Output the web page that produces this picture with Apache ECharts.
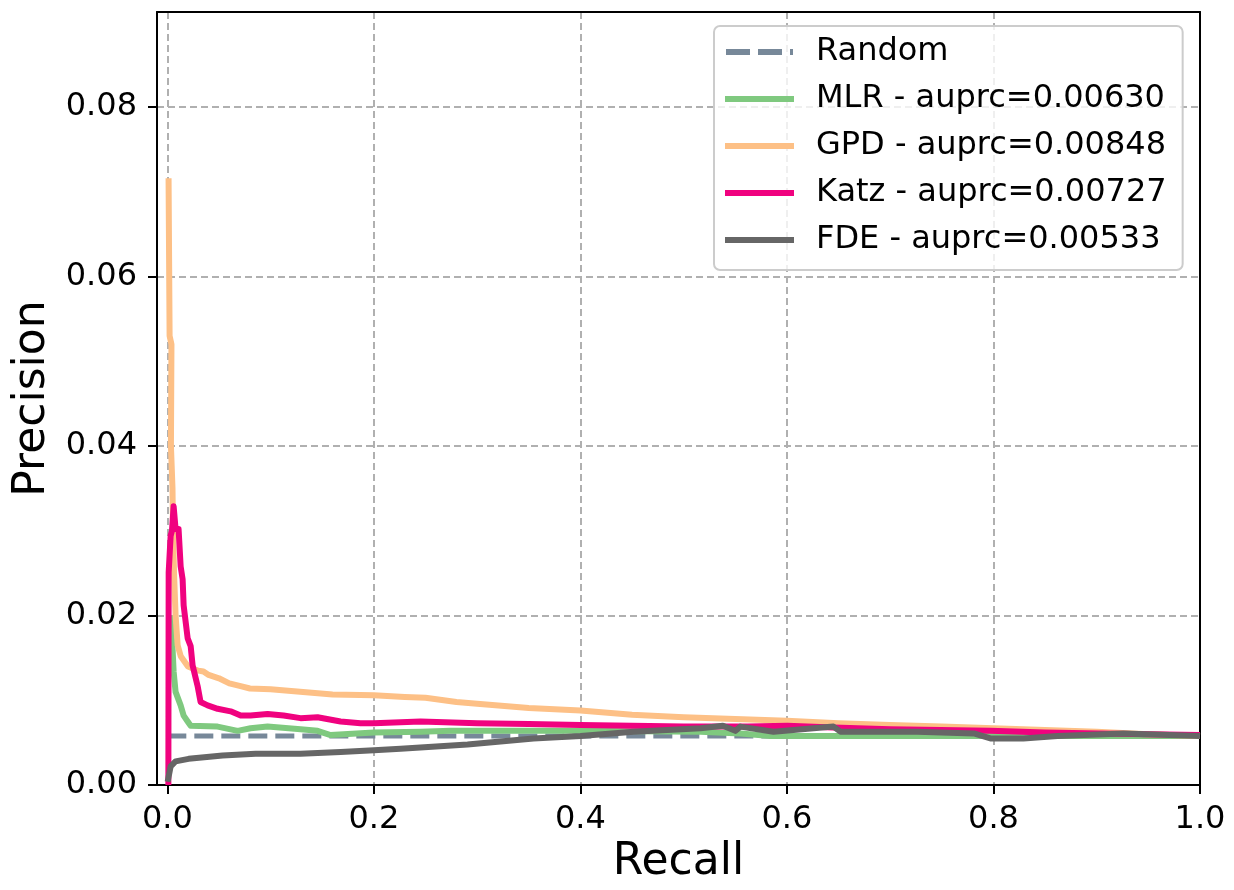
<!DOCTYPE html>
<html>
<head>
<meta charset="utf-8">
<script src="https://cdn.jsdelivr.net/npm/echarts@6/dist/echarts.min.js"></script>
<style>
  html, body { margin: 0; padding: 0; background: #fff; }
  #chart { width: 1234px; height: 890px; }
</style>
</head>
<body>
<div id="chart"></div>
<script>
// Precision-recall curves of four models against the random baseline
const baseRate = 0.0058;
const randomRecall = [0, 1];

const mlrRecall = [0.0030, 0.0051, 0.0061, 0.0080, 0.0129, 0.0158, 0.0197, 0.0226, 0.0487, 0.0681, 0.0806, 0.0971, 0.1290, 0.1455, 0.1581, 0.1707, 0.2000, 0.2452, 0.2743, 0.3500, 0.4001, 0.5163, 0.5550, 0.5840, 0.7000, 0.8500, 1.0000];
const mlrPrecision = [0.0200, 0.0160, 0.0134, 0.0110, 0.0094, 0.0082, 0.0075, 0.0070, 0.0069, 0.0064, 0.0067, 0.0069, 0.0066, 0.0064, 0.0059, 0.0060, 0.0062, 0.0063, 0.0064, 0.0064, 0.0064, 0.0063, 0.0061, 0.0058, 0.0058, 0.0058, 0.0058];

const gpdRecall = [0.0012, 0.0022, 0.0040, 0.0035, 0.0050, 0.0055, 0.0065, 0.0080, 0.0100, 0.0130, 0.0200, 0.0300, 0.0350, 0.0400, 0.0500, 0.0600, 0.0700, 0.0800, 0.1000, 0.1200, 0.1400, 0.1600, 0.2000, 0.2300, 0.2500, 0.2800, 0.3000, 0.3500, 0.4000, 0.4500, 0.5000, 0.5500, 0.6000, 0.6500, 0.7000, 0.7500, 0.8000, 0.8500, 0.9000, 0.9500, 1.0000];
const gpdPrecision = [0.0716, 0.0530, 0.0520, 0.0400, 0.0350, 0.0300, 0.0250, 0.0200, 0.0165, 0.0152, 0.0140, 0.0135, 0.0134, 0.0130, 0.0126, 0.0120, 0.0117, 0.0114, 0.0113, 0.0111, 0.0109, 0.0107, 0.0106, 0.0104, 0.0103, 0.0098, 0.0096, 0.0091, 0.0088, 0.0083, 0.0080, 0.0078, 0.0076, 0.0073, 0.0071, 0.0069, 0.0067, 0.0065, 0.0063, 0.0060, 0.0058];

const katzRecall = [0.0010, 0.0013, 0.0032, 0.0045, 0.0061, 0.0080, 0.0109, 0.0129, 0.0148, 0.0158, 0.0197, 0.0226, 0.0245, 0.0293, 0.0322, 0.0390, 0.0487, 0.0613, 0.0710, 0.0806, 0.0971, 0.1126, 0.1290, 0.1455, 0.1678, 0.1871, 0.2000, 0.2452, 0.3000, 0.3500, 0.4001, 0.4500, 0.5000, 0.5617, 0.6005, 0.6450, 0.7000, 0.7970, 0.8500, 0.9035, 0.9500, 1.0000];
const katzPrecision = [0.0000, 0.0251, 0.0294, 0.0300, 0.0329, 0.0302, 0.0302, 0.0258, 0.0243, 0.0212, 0.0173, 0.0164, 0.0141, 0.0117, 0.0098, 0.0094, 0.0090, 0.0087, 0.0082, 0.0082, 0.0084, 0.0082, 0.0079, 0.0080, 0.0075, 0.0073, 0.0073, 0.0075, 0.0073, 0.0072, 0.0071, 0.0070, 0.0069, 0.0069, 0.0070, 0.0068, 0.0066, 0.0064, 0.0062, 0.0061, 0.0060, 0.0059];

const fdeRecall = [0.0003, 0.0032, 0.0080, 0.0206, 0.0535, 0.0855, 0.1126, 0.1290, 0.1678, 0.2000, 0.2259, 0.2907, 0.3546, 0.4001, 0.4514, 0.5163, 0.5380, 0.5500, 0.5550, 0.5870, 0.6450, 0.6518, 0.7260, 0.7810, 0.7970, 0.8290, 0.8620, 0.9260, 1.0000];
const fdePrecision = [0.0004, 0.0022, 0.0028, 0.0031, 0.0035, 0.0037, 0.0037, 0.0037, 0.0039, 0.0041, 0.0043, 0.0048, 0.0055, 0.0058, 0.0063, 0.0067, 0.0070, 0.0064, 0.0069, 0.0063, 0.0069, 0.0063, 0.0063, 0.0061, 0.0055, 0.0055, 0.0058, 0.0061, 0.0058];

const xTicks = [0, 0.2, 0.4, 0.6, 0.8, 1.0];
const yTicks = [0, 0.02, 0.04, 0.06, 0.08];

const zip = (xs, ys) => xs.map((x, i) => [x, ys[i]]);
const font = 'DejaVu Sans';
const lineW = 6;

// legend swatches: a solid bar, and a dash-dash-dot bar for the baseline
const solidIcon = 'path://M0,0H69V6H0Z';
const dashedIcon = 'path://M0,0H24V6H0Z M32,0H56V6H32Z M64,0H67V6H64Z';

function curve(name, color, xs, ys, extra) {
  return Object.assign({
    name: name,
    type: 'line',
    data: zip(xs, ys),
    showSymbol: false,
    symbol: 'none',
    silent: true,
    lineStyle: { color: color, width: lineW, cap: 'butt', join: 'round' },
    itemStyle: { color: color }
  }, extra || {});
}

const frameAxis = {
  show: true,
  axisLine: { show: true, onZero: false, lineStyle: { color: '#000', width: 2 } },
  axisTick: { show: false },
  axisLabel: { show: false },
  splitLine: { show: false }
};

const chart = echarts.init(document.getElementById('chart'), null, { renderer: 'canvas' });

chart.setOption({
  animation: false,
  backgroundColor: '#ffffff',
  textStyle: { fontFamily: font },
  grid: { left: 157, right: 34, top: 12, bottom: 103, show: false },
  xAxis: [{
    type: 'value',
    min: -0.01, max: 1.0,
    position: 'bottom',
    name: 'Recall',
    nameLocation: 'middle',
    nameGap: 55,
    nameTextStyle: { fontFamily: font, fontSize: 44, color: '#000' },
    axisLine: { show: true, onZero: false, lineStyle: { color: '#000', width: 2 } },
    axisTick: { show: true, inside: false, length: 9, customValues: xTicks, lineStyle: { color: '#000', width: 2 } },
    axisLabel: {
      customValues: xTicks, margin: 19, color: '#000', fontFamily: font, fontSize: 32,
      formatter: v => v.toFixed(1)
    },
    splitLine: { show: true, lineStyle: { color: '#b0b0b0', width: 2, type: [7, 4] } }
  }, Object.assign({ type: 'value', min: -0.01, max: 1.0, position: 'top' }, frameAxis)],
  yAxis: [{
    type: 'value',
    min: 0, max: 0.0912,
    position: 'left',
    name: 'Precision',
    nameLocation: 'middle',
    nameGap: 102,
    nameTextStyle: { fontFamily: font, fontSize: 44, color: '#000' },
    axisLine: { show: true, onZero: false, lineStyle: { color: '#000', width: 2 } },
    axisTick: { show: true, inside: false, length: 9, customValues: yTicks, lineStyle: { color: '#000', width: 2 } },
    axisLabel: {
      customValues: yTicks, margin: 20, color: '#000', fontFamily: font, fontSize: 32,
      formatter: v => v.toFixed(2)
    },
    splitLine: { show: true, lineStyle: { color: '#b0b0b0', width: 2, type: [7, 4] } }
  }, Object.assign({ type: 'value', min: 0, max: 0.0912, position: 'right' }, frameAxis)],
  legend: {
    orient: 'vertical',
    left: 714, top: 26,
    padding: [10, 16, 14, 11],
    itemWidth: 69, itemHeight: 6, itemGap: 15,
    borderColor: '#cccccc', borderWidth: 2, borderRadius: 6,
    backgroundColor: 'rgba(255,255,255,0.8)',
    itemStyle: { borderWidth: 0 },
    textStyle: { fontFamily: font, fontSize: 32, color: '#000', lineHeight: 32, padding: [0, 0, 0, 17] },
    data: [
      { name: 'Random', icon: dashedIcon },
      { name: 'MLR - auprc=0.00630', icon: solidIcon },
      { name: 'GPD - auprc=0.00848', icon: solidIcon },
      { name: 'Katz - auprc=0.00727', icon: solidIcon },
      { name: 'FDE - auprc=0.00533', icon: solidIcon }
    ]
  },
  series: [
    curve('Random', '#778899', randomRecall, randomRecall.map(() => baseRate), {
      lineStyle: { color: '#778899', width: 5, type: [19, 8], cap: 'butt' }
    }),
    curve('MLR - auprc=0.00630', '#7fc97f', mlrRecall, mlrPrecision),
    curve('GPD - auprc=0.00848', '#fdc086', gpdRecall, gpdPrecision),
    curve('Katz - auprc=0.00727', '#f0027f', katzRecall, katzPrecision),
    curve('FDE - auprc=0.00533', '#666666', fdeRecall, fdePrecision)
  ]
});
</script>
</body>
</html>
